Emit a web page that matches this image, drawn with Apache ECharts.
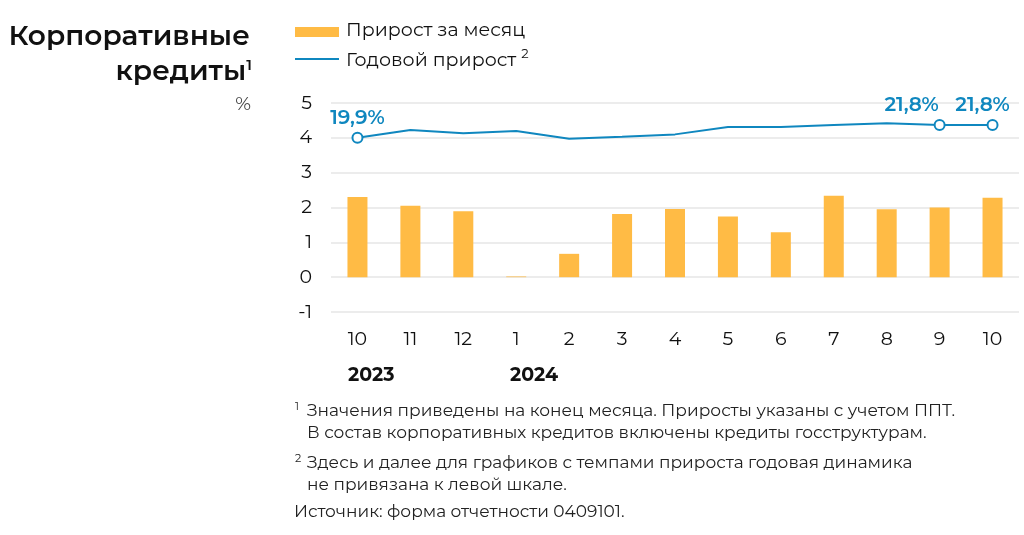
<!DOCTYPE html>
<html><head><meta charset="utf-8">
<script src="https://cdn.jsdelivr.net/npm/echarts@6/dist/echarts.min.js"></script>
<style>html,body{margin:0;padding:0;background:#fff}#c{width:1024px;height:535px}</style>
</head><body><div id="c"></div>
<script>
const categories = ['10','11','12','1','2','3','4','5','6','7','8','9','10'];
const monthlyGrowth = [2.30, 2.05, 1.89, 0.02, 0.67, 1.81, 1.96, 1.74, 1.29, 2.34, 1.95, 2.00, 2.28];
const annualGrowth = [19.9, 21.05, 20.56, 20.9, 19.75, 20.05, 20.4, 21.5, 21.5, 21.8, 22.06, 21.8, 21.8];
const labeledPoints = [0, 11, 12];
const labelOffsets = {0: 0, 11: -28, 12: -10};
const yTicks = {min: -1, max: 5, interval: 1};
const years = ['2023', '2024'];

const BLUE = '#0f87bf', ORANGE = '#ffbb45', FONT = 'Montserrat, "Open Sans", sans-serif';

const lineData = annualGrowth.map((v, i) => labeledPoints.includes(i) ? {
  value: v, symbol: 'circle', symbolSize: 10,
  itemStyle: {color: '#fff', borderColor: BLUE, borderWidth: 2},
  label: {show: true, position: 'top', distance: 4, offset: [labelOffsets[i], 0],
    formatter: p => p.value.toFixed(1).replace('.', ',') + '%',
    color: BLUE, fontSize: 20, fontWeight: 600, fontFamily: FONT}
} : {value: v, symbol: 'none'});

const chart = echarts.init(document.getElementById('c'));
chart.setOption({
  animation: false,
  grid: {left: 331, right: 5, top: 103, bottom: 223},
  xAxis: {type: 'category', data: categories, axisLine: {show: false}, axisTick: {show: false},
    axisLabel: {margin: 18, fontSize: 19, color: '#111', fontFamily: FONT}},
  yAxis: [
    {type: 'value', min: yTicks.min, max: yTicks.max, interval: yTicks.interval,
     axisLine: {show: false}, axisTick: {show: false},
     axisLabel: {margin: 19, fontSize: 19, color: '#111', fontFamily: FONT},
     splitLine: {lineStyle: {color: '#e6e6e6', width: 1.5}}},
    {type: 'value', show: false, min: -6.2, max: 25.1, splitLine: {show: false}}
  ],
  series: [
    {name: 'Прирост за месяц', type: 'bar', data: monthlyGrowth, barWidth: 20,
     itemStyle: {color: ORANGE}},
    {name: 'Годовой прирост', type: 'line', yAxisIndex: 1, data: lineData,
     lineStyle: {color: BLUE, width: 2}, itemStyle: {color: BLUE}, symbol: 'none', z: 5}
  ],
  graphic: [
    {type: 'text', right: 1024 - 250, top: 23, style: {text: 'Корпоративные', font: '600 28px ' + FONT, fill: '#111', textAlign: 'right'}},
    {type: 'text', right: 1024 - 252, top: 58, style: {text: 'кредиты{s|1}', font: '600 28px ' + FONT, fill: '#111',
      rich: {s: {fontSize: 15, fontWeight: 600, fontFamily: FONT, verticalAlign: 'top', padding: [0,0,12,0]}}}},
    {type: 'text', right: 1024 - 251, top: 95, style: {text: '%', font: '19px ' + FONT, fill: '#444'}},
    {type: 'rect', left: 295, top: 27, shape: {width: 44, height: 10}, style: {fill: ORANGE}},
    {type: 'text', left: 346, top: 21, style: {text: 'Прирост за месяц', font: '19px ' + FONT, fill: '#111'}},
    {type: 'rect', left: 295, top: 58, shape: {width: 44, height: 2}, style: {fill: BLUE}},
    {type: 'text', left: 346, top: 48, style: {text: 'Годовой прирост{s|2}', font: '19px ' + FONT, fill: '#111',
      rich: {s: {fontSize: 13, fontFamily: FONT, padding: [0,0,12,5]}}}},
    {type: 'text', left: 348, top: 366, style: {text: years[0], font: 'bold 19px ' + FONT, fill: '#111'}},
    {type: 'text', left: 510, top: 366, style: {text: years[1], font: 'bold 19px ' + FONT, fill: '#111'}},
    {type: 'text', left: 295, top: 401, style: {text: '1', font: '11px ' + FONT, fill: '#222'}},
    {type: 'text', left: 307, top: 400, style: {text: 'Значения приведены на конец месяца. Приросты указаны с учетом ППТ.\nВ состав корпоративных кредитов включены кредиты госструктурам.', font: '17px ' + FONT, fill: '#222', lineHeight: 22}},
    {type: 'text', left: 295, top: 453, style: {text: '2', font: '11px ' + FONT, fill: '#222'}},
    {type: 'text', left: 307, top: 452, style: {text: 'Здесь и далее для графиков с темпами прироста годовая динамика\nне привязана к левой шкале.', font: '17px ' + FONT, fill: '#222', lineHeight: 22}},
    {type: 'text', left: 294, top: 503, style: {text: 'Источник: форма отчетности 0409101.', font: '17px ' + FONT, fill: '#222'}}
  ]
});
</script></body></html>
